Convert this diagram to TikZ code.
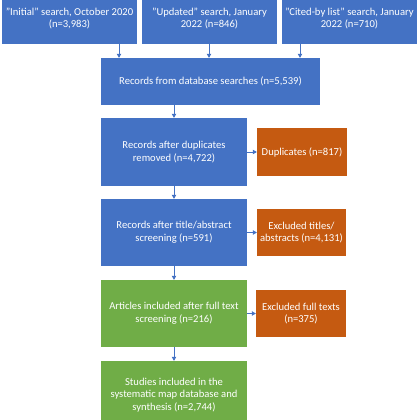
\documentclass[tikz,border=0pt]{standalone}
\usepackage{fontspec}
\setmainfont{Carlito}
\usetikzlibrary{arrows.meta}
\definecolor{offblue}{HTML}{4472C4}
\definecolor{offorange}{HTML}{C55A11}
\definecolor{offgreen}{HTML}{70AD47}
\tikzset{
  boxbase/.style={draw=none, text=white, align=center, inner sep=0pt,
    font=\fontsize{10.6}{12.8}\selectfont},
  bluebox/.style={boxbase, fill=offblue},
  orangebox/.style={boxbase, fill=offorange},
  greenbox/.style={boxbase, fill=offgreen},
  flowarrow/.style={draw=offblue, line width=0.6pt, -{Triangle[length=4pt,width=4.5pt]}},
}
\begin{document}
\begin{tikzpicture}[x=1pt,y=-1pt]
\useasboundingbox (0,0) rectangle (420,420);
\begin{scope}
\clip (0,0) rectangle (420,420);
\node[bluebox, minimum width=135pt, minimum height=51pt] (s1) at (69.5,18.5)
  {"Initial" search, October 2020\\(n=3,983)};
\node[bluebox, minimum width=135pt, minimum height=51pt] (s2) at (209.5,18.5)
  {"Updated" search, January\\2022 (n=846)};
\node[bluebox, minimum width=135pt, minimum height=51pt] (s3) at (349.5,18.5)
  {"Cited-by list" search, January\\2022 (n=710)};
\node[bluebox, minimum width=219pt, minimum height=47pt] (rec) at (210.5,81.5)
  {Records from database searches (n=5,539)};
\node[bluebox, minimum width=146pt, minimum height=68pt] (dup) at (174,152)
  {Records after duplicates\\removed (n=4,722)};
\node[orangebox, minimum width=90pt, minimum height=48pt] (dupx) at (302,152)
  {Duplicates (n=817)};
\node[bluebox, minimum width=146pt, minimum height=67pt] (ta) at (174,232.5)
  {Records after title/abstract\\screening (n=591)};
\node[orangebox, minimum width=89pt, minimum height=47pt] (tax) at (301.5,232.5)
  {Excluded titles/\\abstracts (n=4,131)};
\node[greenbox, minimum width=146pt, minimum height=67pt] (ft) at (174,313.5)
  {Articles included after full text\\screening (n=216)};
\node[orangebox, minimum width=90pt, minimum height=47pt] (ftx) at (301,313.5)
  {Excluded full texts\\(n=375)};
\node[greenbox, minimum width=146pt, minimum height=68pt] (fin) at (174,395)
  {Studies included in the\\systematic map database and\\synthesis (n=2,744)};
\end{scope}
\coordinate (a1) at (119,0);
\coordinate (a2) at (209,0);
\coordinate (a3) at (300,0);
\draw[flowarrow] (s1.south -| a1) -- (rec.north -| a1);
\draw[flowarrow] (s2.south -| a2) -- (rec.north -| a2);
\draw[flowarrow] (s3.south -| a3) -- (rec.north -| a3);
\draw[flowarrow] (rec.south -| dup.north) -- (dup.north);
\draw[flowarrow] (dup.south) -- (ta.north);
\draw[flowarrow] (ta.south) -- (ft.north);
\draw[flowarrow] (ft.south) -- (fin.north);
\draw[flowarrow] (dup.east) -- (dupx.west);
\draw[flowarrow] (ta.east) -- (tax.west);
\draw[flowarrow] (ft.east) -- (ftx.west);
\end{tikzpicture}
\end{document}
